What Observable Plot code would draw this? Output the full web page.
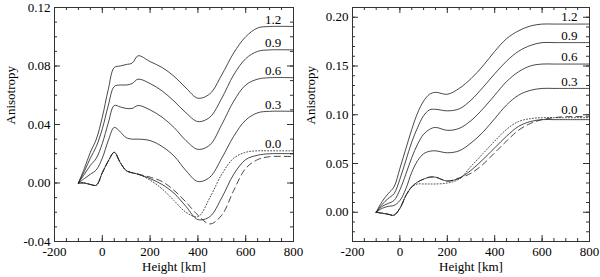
<!DOCTYPE html>
<html><head><meta charset="utf-8">
<script src="https://cdn.jsdelivr.net/npm/d3@7"></script>
<script src="https://cdn.jsdelivr.net/npm/@observablehq/plot@0.6"></script>
<style>
body{margin:0;background:#fff;}
#wrap{display:flex;width:600px;height:277px;background:#fff;}
#wrap svg{overflow:visible;}
</style></head>
<body><div id="wrap"></div>
<script>
// Heights (km) shared by every curve
const heights = [-100,-75,-50,-25,0,25,50,75,100,125,150,200,250,300,350,400,450,500,550,600,650,700,800];

// Left panel series
const left12 = [0,0.010,0.021,0.030,0.045,0.064,0.079,0.080,0.081,0.082,0.087,0.083,0.079,0.073,0.065,0.058,0.061,0.074,0.089,0.100,0.106,0.107,0.107];
const left09 = [0,0.008,0.017,0.025,0.037,0.053,0.066,0.067,0.067,0.068,0.071,0.068,0.063,0.056,0.048,0.042,0.045,0.058,0.074,0.085,0.090,0.091,0.091];
const left06 = [0,0.006,0.012,0.017,0.027,0.041,0.053,0.052,0.051,0.051,0.053,0.050,0.045,0.038,0.029,0.023,0.026,0.040,0.056,0.067,0.071,0.072,0.072];
const left03 = [0,0.003,0.006,0.009,0.017,0.029,0.038,0.035,0.031,0.030,0.030,0.029,0.025,0.0185,0.0085,0.001,0.004,0.017,0.032,0.043,0.048,0.049,0.049];
const left00 = [0,0.000,-0.001,-0.0015,0.007,0.015,0.021,0.014,0.0085,0.007,0.006,0.003,-0.001,-0.007,-0.016,-0.025,-0.023,-0.010,0.006,0.016,0.019,0.020,0.020];
const left00dot = [0,0.000,-0.001,-0.0015,0.007,0.015,0.021,0.014,0.0085,0.007,0.006,0.002,-0.004,-0.012,-0.020,-0.023,-0.010,0.006,0.017,0.021,0.022,0.022,0.022];
const left00dash = [0,0.000,-0.001,-0.0015,0.007,0.015,0.021,0.014,0.0085,0.007,0.006,0.004,0.001,-0.005,-0.013,-0.022,-0.028,-0.022,-0.005,0.010,0.016,0.018,0.018];

// Right panel series
const right12 = [0,0.011,0.019,0.026,0.045,0.065,0.085,0.102,0.114,0.121,0.123,0.121,0.127,0.137,0.150,0.165,0.178,0.186,0.191,0.193,0.193,0.193,0.193];
const right09 = [0,0.008,0.014,0.019,0.034,0.053,0.072,0.087,0.099,0.105,0.1056,0.104,0.106,0.115,0.128,0.142,0.155,0.165,0.171,0.174,0.174,0.174,0.174];
const right06 = [0,0.006,0.009,0.012,0.023,0.039,0.056,0.070,0.080,0.085,0.087,0.084,0.086,0.094,0.106,0.120,0.134,0.144,0.150,0.152,0.152,0.152,0.152];
const right03 = [0,0.004,0.006,0.007,0.012,0.024,0.041,0.053,0.060,0.0625,0.063,0.061,0.063,0.071,0.082,0.096,0.110,0.120,0.125,0.127,0.127,0.127,0.127];
const right00 = [0,-0.001,-0.002,-0.003,0.004,0.017,0.026,0.031,0.034,0.036,0.036,0.032,0.035,0.043,0.054,0.066,0.078,0.088,0.093,0.095,0.095,0.095,0.095];
const right00dot = [0,-0.001,-0.002,-0.003,0.004,0.017,0.026,0.029,0.029,0.029,0.029,0.030,0.034,0.047,0.060,0.073,0.085,0.093,0.096,0.097,0.097,0.097,0.097];
const right00dash = [0,-0.001,-0.002,-0.003,0.004,0.017,0.026,0.031,0.034,0.036,0.036,0.032,0.035,0.040,0.049,0.061,0.073,0.084,0.091,0.095,0.097,0.098,0.098];

// Labels and ticks
const curveLabels = ["1.2","0.9","0.6","0.3","0.0"];
const labelHeight = 715;
const xTicks = [-200,0,200,400,600,800];
const leftYTicks = [-0.04,0,0.04,0.08,0.12];
const rightYTicks = [0,0.05,0.10,0.15,0.20];
const xLabel = "Height [km]";
const yLabel = "Anisotropy";

function panel({solid, dotted, dashed, labelY, yDomain, yTicks, yMinorStep, marginLeft, marginRight}) {
  const W = 300, H = 277, mt = 7, mb = 36;
  const fw = W - marginLeft - marginRight, fh = H - mt - mb;
  const xMinor = d3.range(-200, 801, 50);
  const yMinor = d3.range(Math.round(yDomain[0]/yMinorStep), Math.round(yDomain[1]/yMinorStep)+1).map(i => i*yMinorStep);
  const toRows = arr => heights.map((h,i) => ({h, v: arr[i]}));
  const line = (arr, dash) => Plot.line(toRows(arr), {x:"h", y:"v", stroke:"#1a1a1a", strokeWidth:0.8, curve:"catmull-rom", strokeDasharray: dash});
  const labels = curveLabels.map((t,i) => ({t, h: labelHeight, v: labelY[i]}));
  const ink = "#333";
  return Plot.plot({
    width: W, height: H, marginLeft, marginRight, marginTop: mt, marginBottom: mb,
    style: {fontFamily: "'Liberation Serif', 'Times New Roman', serif", fontSize: "13px", background: "transparent", color: "#000", overflow: "visible"},
    x: {domain: [-200, 800]},
    y: {domain: yDomain},
    marks: [
      // inward ticks on all four sides
      Plot.tickX(xTicks, {x: d=>d, insetTop: fh-6, stroke: ink}),
      Plot.tickX(xTicks, {x: d=>d, insetBottom: fh-6, stroke: ink}),
      Plot.tickX(xMinor, {x: d=>d, insetTop: fh-3, stroke: ink}),
      Plot.tickX(xMinor, {x: d=>d, insetBottom: fh-3, stroke: ink}),
      Plot.tickY(yTicks, {y: d=>d, insetRight: fw-6, stroke: ink}),
      Plot.tickY(yTicks, {y: d=>d, insetLeft: fw-6, stroke: ink}),
      Plot.tickY(yMinor, {y: d=>d, insetRight: fw-3, stroke: ink}),
      Plot.tickY(yMinor, {y: d=>d, insetLeft: fw-3, stroke: ink}),
      Plot.frame({stroke: ink}),
      Plot.axisX(xTicks, {tickSize: 0, tickPadding: 5.5, tickFormat: d => String(d), label: null}),
      Plot.axisY(yTicks, {tickSize: 0, tickPadding: 4, tickFormat: d => d.toFixed(2), label: null}),
      Plot.text([xLabel], {frameAnchor: "bottom", dy: 29, fill: "#000"}),
      Plot.text([yLabel], {frameAnchor: "left", dx: -(marginLeft-10), rotate: -90, fill: "#000"}),
      ...solid.map(a => line(a, null)),
      line(dotted, "1,2"),
      line(dashed, "6,4"),
      Plot.text(labels, {x: "h", y: "v", text: "t", dy: -7, fill: "#000"})
    ]
  });
}

const wrap = document.getElementById("wrap");
wrap.append(panel({
  solid: [left12, left09, left06, left03, left00],
  dotted: left00dot, dashed: left00dash,
  labelY: [left12.at(-1), left09.at(-1), left06.at(-1), left03.at(-1), left00dot.at(-1)],
  yDomain: [-0.04, 0.12], yTicks: leftYTicks, yMinorStep: 0.01,
  marginLeft: 54, marginRight: 7
}));
wrap.append(panel({
  solid: [right12, right09, right06, right03, right00],
  dotted: right00dot, dashed: right00dash,
  labelY: [right12.at(-1), right09.at(-1), right06.at(-1), right03.at(-1), right00dash.at(-1)],
  yDomain: [-0.03, 0.21], yTicks: rightYTicks, yMinorStep: 0.01,
  marginLeft: 52, marginRight: 11
}));
</script></body></html>
